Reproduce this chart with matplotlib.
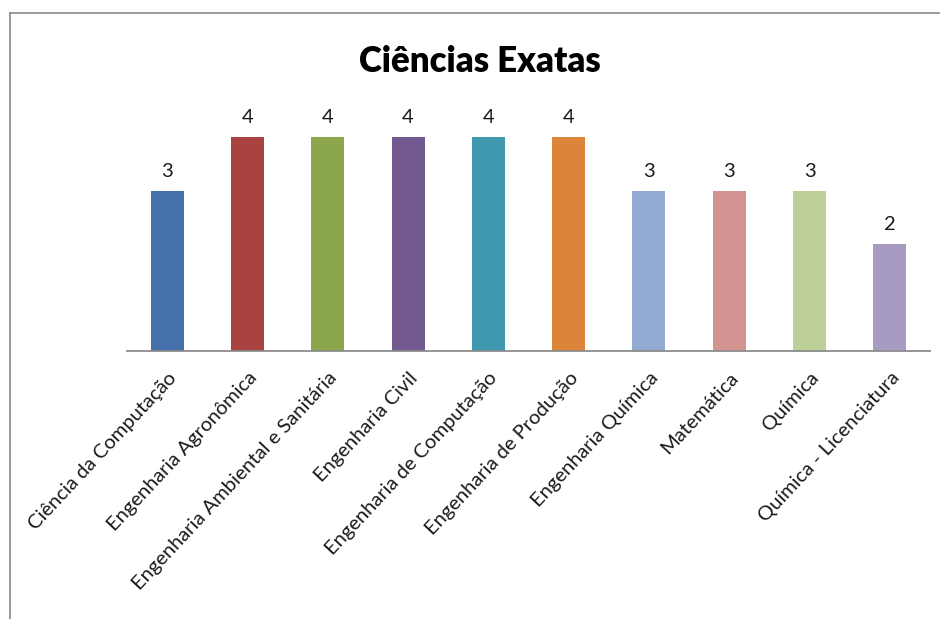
import matplotlib
matplotlib.use("Agg")
import matplotlib.pyplot as plt
from matplotlib.lines import Line2D

cursos = [
    "Ciência da Computação",
    "Engenharia Agronômica",
    "Engenharia Ambiental e Sanitária",
    "Engenharia Civil",
    "Engenharia de Computação",
    "Engenharia de Produção",
    "Engenharia Química",
    "Matemática",
    "Química",
    "Química - Licenciatura",
]
valores = [3, 4, 4, 4, 4, 4, 3, 3, 3, 2]
cores = [
    "#4670AB", "#A84340", "#8CA64D", "#725990", "#409AAF",
    "#DC843A", "#93AAD2", "#D39391", "#BCCF96", "#A89BC2",
]

plt.rcParams["font.family"] = ["Lato", "DejaVu Sans"]

fig = plt.figure(figsize=(9.40, 6.19), dpi=100)
ax = fig.add_axes([127 / 940, 1 - 351 / 619, 803 / 940, (351 - 83.5) / 619])

x = list(range(len(cursos)))
barras = ax.bar(x, valores, width=0.41, color=cores, zorder=2)

for xi, v in zip(x, valores):
    ax.text(xi, v + 0.2, str(v), ha="center", va="bottom",
            fontsize=14.5, color="#1a1a1a")

ax.set_xlim(-0.5, len(cursos) - 0.5)
ax.set_ylim(0, 5)
ax.set_xticks(x)
ax.set_xticklabels(cursos, rotation=47, ha="right", rotation_mode="anchor",
                   fontsize=14.5, color="#1a1a1a")
ax.tick_params(axis="x", length=0, pad=13)
ax.set_yticks([])
for side in ("left", "right", "top"):
    ax.spines[side].set_visible(False)
ax.spines["bottom"].set_color("#8c8c8c")
ax.spines["bottom"].set_linewidth(1.3)

fig.text(480 / 940, 1 - 61 / 619, "Ciências Exatas", ha="center", va="center",
         fontsize=25, fontweight="heavy", color="#000000")

# chart frame (top and left edges)
fig.add_artist(Line2D([10 / 940, 1.0], [1 - 13 / 619, 1 - 13 / 619],
                      transform=fig.transFigure, color="#8a8a8a", lw=1.2))
fig.add_artist(Line2D([10 / 940, 10 / 940], [0.0, 1 - 13 / 619],
                      transform=fig.transFigure, color="#8a8a8a", lw=1.2))

fig.savefig("out.png", dpi=100)
